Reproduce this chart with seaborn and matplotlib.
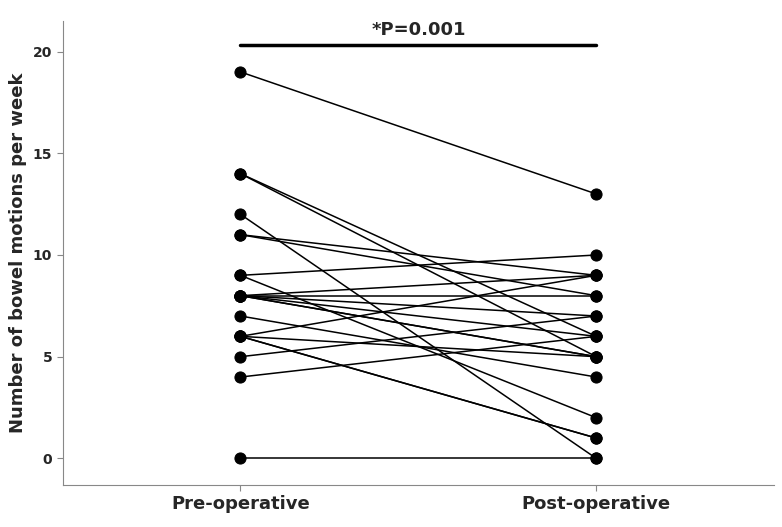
import matplotlib
matplotlib.use("Agg")
import matplotlib.pyplot as plt
import seaborn as sns
import pandas as pd

pre = [19, 14, 14, 12, 11, 11, 9, 9, 8, 8, 8, 8, 8, 8, 7, 6, 6, 6, 6, 5, 4, 0]
post = [13, 5, 6, 0, 9, 8, 10, 2, 9, 8, 7, 6, 5, 5, 4, 9, 5, 1, 1, 7, 6, 0]
labels = ["Pre-operative", "Post-operative"]

rows = []
for i, (a, b) in enumerate(zip(pre, post)):
    rows.append({"id": i, "time": 0, "val": a})
    rows.append({"id": i, "time": 1, "val": b})
df = pd.DataFrame(rows)

sns.set_style("white")
fig, ax = plt.subplots(figsize=(7.82, 5.27), dpi=100)
sns.lineplot(data=df, x="time", y="val", units="id", estimator=None, color="black",
             lw=1.1, marker="o", markersize=8, markeredgecolor="black", ax=ax, legend=False)
ax.set_xlim(-0.5, 1.5)
ax.set_ylim(-1.3, 21.5)
ax.set_xticks([0, 1])
ax.set_xticklabels(labels, fontsize=13, fontweight="bold")
ax.set_yticks([0, 5, 10, 15, 20])
ax.tick_params(axis="y", labelsize=10)
for t in ax.get_yticklabels():
    t.set_fontweight("bold")
ax.set_xlabel("")
ax.set_ylabel("Number of bowel motions per week", fontsize=13, fontweight="bold")
ax.tick_params(axis="both", direction="out", length=4, left=True, bottom=True, color="#888888")
for s in ["top", "right"]:
    ax.spines[s].set_visible(False)
for s in ["left", "bottom"]:
    ax.spines[s].set_color("#888888")
ax.plot([0, 1], [20.3, 20.3], color="black", lw=2.5, clip_on=False)
ax.text(0.5, 20.6, "*P=0.001", ha="center", va="bottom", fontsize=13, fontweight="bold")
plt.subplots_adjust(left=0.08, right=0.99, top=0.96, bottom=0.08)
fig.savefig("out.png", dpi=100)
